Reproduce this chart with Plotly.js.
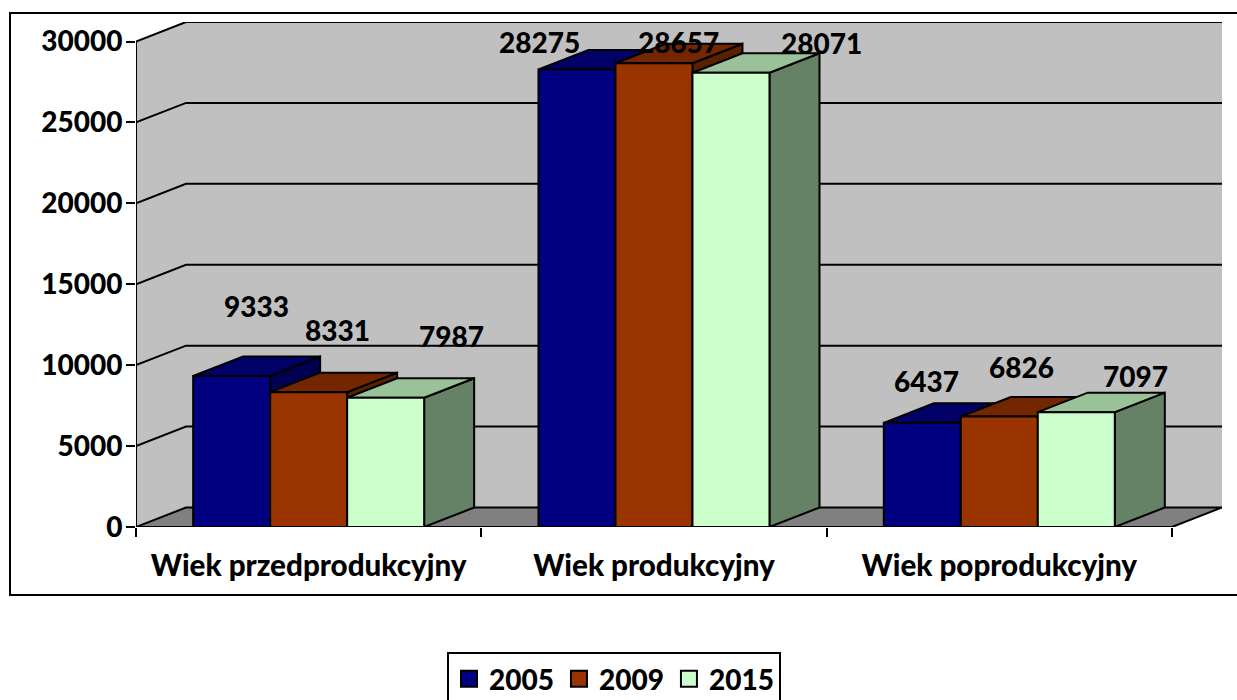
<!DOCTYPE html>
<html><head><meta charset="utf-8">
<script src="https://cdn.plot.ly/plotly-3.0.1.min.js"></script>
<style>html,body{margin:0;padding:0;background:#fff}#chart{width:1237px;height:700px}</style>
</head><body><div id="chart"></div>
<script>
const categories = ['Wiek przedprodukcyjny', 'Wiek produkcyjny', 'Wiek poprodukcyjny'];
const years = ['2005', '2009', '2015'];
const values2005 = [9333, 28275, 6437];
const values2009 = [8331, 28657, 6826];
const values2015 = [7987, 28071, 7097];
const yTicks = [0, 5000, 10000, 15000, 20000, 25000, 30000];

const seriesValues = [values2005, values2009, values2015];
const frontColors = ['#000080', '#993300', '#CCFFCC'];
const topColors = ['#000066', '#732600', '#99C299'];
const sideColors = ['#000050', '#5A2000', '#668266'];
// pixel nudges of the data labels, per series and category
const labelDx = [[24.5, -37.5, 4.5], [28.5, 24.5, 22.5], [65.5, 90.5, 59.5]];
const labelDy = [[70, 27, 42], [62, 21, 50], [62, 30, 36]];

const W = 1237, H = 700, L = 136, T = 22, R = 1222, B = 527;
const catPx = 345.33, fullPx = 485.5, depthPx = 50, risePx = 19.5;
const yTop = 30000;
const dX = depthPx / catPx, dY = risePx * yTop / fullPx;
const xEnd = (R - L) / catPx, yEnd = (B - T) * yTop / fullPx;
const barW = 77 / catPx, groupStart = 0.1655;
const FONT = 'Lato', WEIGHT = 900;
const k = {hoverinfo: 'skip', showlegend: false, cliponaxis: false, mode: 'lines'};
const poly = (xs, ys, fill, w = 2) => ({...k, type: 'scatter', x: xs, y: ys, fill: 'toself', fillcolor: fill,
  line: {color: w ? '#000' : fill, width: w}});

const traces = [];
// walls and floor
traces.push(poly([0, 0, dX, xEnd, xEnd, 3, 0], [0, yTop, yTop + dY, yTop + dY, dY, 0, 0], '#C0C0C0', 0));
traces.push(poly([0, dX, xEnd, 3, 0], [0, dY, dY, 0, 0], '#808080'));
yTicks.slice(1).forEach(v => traces.push({...k, type: 'scatter', x: [0, dX, xEnd], y: [v, v + dY, v + dY],
  line: {color: '#000', width: 2}}));
traces.push({...k, type: 'scatter', x: [0, 0], y: [0, yTop], line: {color: '#000', width: 2}});

// legend keys: sit on the bar tops, hidden by the faces drawn afterwards
years.forEach((year, s) => traces.push({type: 'scatter', mode: 'markers', name: year, hoverinfo: 'skip',
  x: categories.map((_, c) => c + groupStart + barW * (s + 0.5)), y: seriesValues[s],
  marker: {symbol: 'square', size: 16, color: frontColors[s], line: {color: '#000', width: 2}}}));

// bars
const annotations = [];
categories.forEach((_, c) => {
  years.forEach((__, s) => {
    const v = seriesValues[s][c];
    const x0 = c + groupStart + barW * s, x1 = x0 + barW;
    traces.push(poly([x1, x1 + dX, x1 + dX, x1, x1], [0, dY, v + dY, v, 0], sideColors[s]));
    traces.push(poly([x0, x0 + dX, x1 + dX, x1, x0], [v, v + dY, v + dY, v, v], topColors[s]));
    traces.push(poly([x0, x1, x1, x0, x0], [0, 0, v, v, 0], frontColors[s]));
    annotations.push({x: (x0 + x1) / 2, y: v, text: String(v), showarrow: false, xanchor: 'center', yanchor: 'middle',
      xshift: labelDx[s][c], yshift: labelDy[s][c], font: {family: FONT, size: 28, weight: WEIGHT, color: '#000'}});
  });
});

const px = x => (x - L) / (R - L), py = y => (B - y) / (B - T);
const layout = {
  width: W, height: H, autosize: false, showlegend: true, hovermode: false,
  paper_bgcolor: '#fff', plot_bgcolor: 'rgba(0,0,0,0)',
  margin: {l: L, r: W - R, t: T, b: H - B, pad: 0},
  font: {family: FONT, size: 28, color: '#000', weight: WEIGHT},
  xaxis: {range: [0, xEnd], showgrid: false, zeroline: false, showline: false, fixedrange: true,
    tickmode: 'array', tickvals: categories.map((_, i) => i + 0.5), ticktext: categories,
    ticks: '', ticklen: 0, ticklabelstandoff: 18,
    tickfont: {family: FONT, size: 29.6, weight: WEIGHT, color: '#000'},
    minor: {tickmode: 'array', tickvals: [0, 1, 2, 3], ticks: 'outside', ticklen: 9, tickwidth: 2, tickcolor: '#000', showgrid: false}},
  yaxis: {range: [0, yEnd], showgrid: false, zeroline: false, showline: false, fixedrange: true,
    tickmode: 'array', tickvals: yTicks, ticktext: yTicks.map(String),
    ticks: 'outside', ticklen: 9, tickwidth: 2, tickcolor: '#000', ticklabelstandoff: -2,
    tickfont: {family: FONT, size: 28, weight: WEIGHT, color: '#000'}},
  legend: {orientation: 'h', xref: 'container', yref: 'container', x: 447 / W, y: 1 - 652 / H, xanchor: 'left', yanchor: 'top',
    bordercolor: '#000', borderwidth: 2, bgcolor: '#fff',
    font: {family: FONT, size: 28, weight: WEIGHT, color: '#000'}, itemclick: false, itemdoubleclick: false},
  shapes: [{type: 'rect', xref: 'paper', yref: 'paper', x0: px(10), x1: px(1300), y0: py(595), y1: py(13),
    line: {color: '#000', width: 2}, fillcolor: 'rgba(0,0,0,0)', layer: 'above'}],
  annotations
};
Plotly.newPlot('chart', traces, layout, {displayModeBar: false, staticPlot: true});
</script></body></html>
